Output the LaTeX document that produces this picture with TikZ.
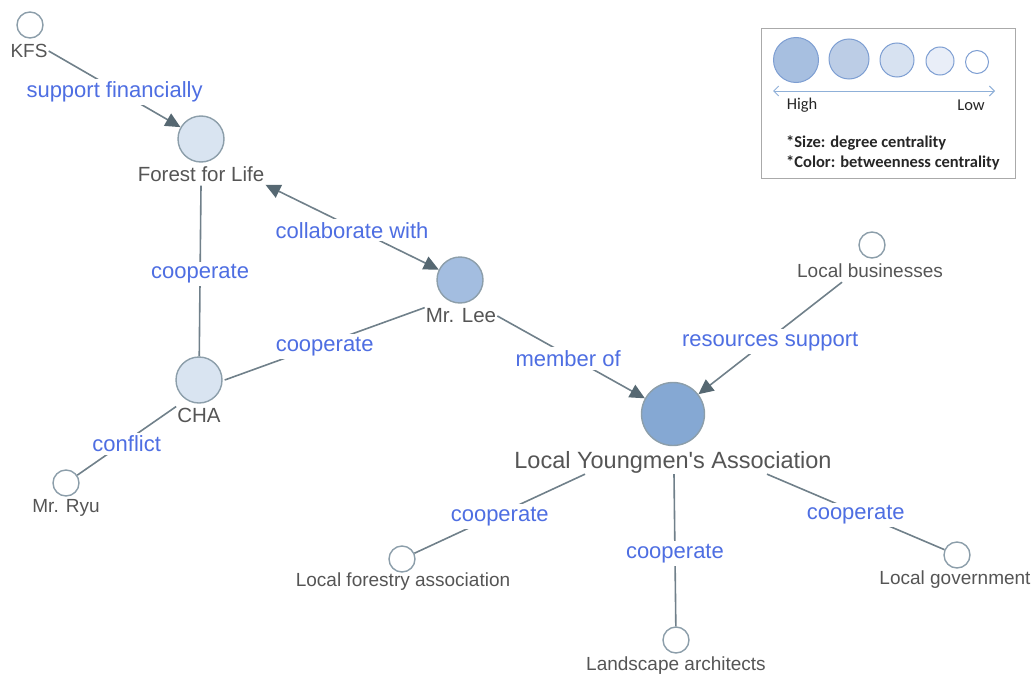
\documentclass[tikz,border=0pt]{standalone}
\usepackage{fontspec}
\setmainfont{Liberation Sans}
\newfontfamily\keyfont{Carlito}
\usetikzlibrary{arrows.meta}

\definecolor{edgegray}{RGB}{112,128,138}
\definecolor{tipgray}{RGB}{86,104,114}
\definecolor{ringgray}{RGB}{140,158,170}
\definecolor{relblue}{RGB}{78,110,226}
\definecolor{namegray}{RGB}{85,85,85}
\definecolor{hubfill}{RGB}{133,168,211}
\definecolor{leefill}{RGB}{163,189,224}
\definecolor{midfill}{RGB}{217,228,241}
\definecolor{keyring}{RGB}{125,158,210}
\definecolor{keyA}{RGB}{167,191,224}
\definecolor{keyB}{RGB}{188,205,230}
\definecolor{keyC}{RGB}{215,226,241}
\definecolor{keyD}{RGB}{233,238,248}
\definecolor{keyline}{RGB}{143,176,216}
\definecolor{boxgray}{RGB}{170,170,170}

\tikzset{
  actor/.style={circle, draw=ringgray, line width=1.4pt, inner sep=0pt, minimum size=#1},
  smallname/.style={font=\fontsize{19}{21}\selectfont, text=namegray, inner sep=1pt},
  midname/.style={font=\fontsize{20.5}{22}\selectfont, text=namegray, inner sep=1pt},
  bigname/.style={font=\fontsize{23.5}{25}\selectfont, text=namegray, inner sep=1pt},
  link/.style={draw=edgegray, line width=1.6pt},
  fwd/.style={-{Triangle[length=15pt,width=14pt,color=tipgray]}},
  both/.style={{Triangle[length=15pt,width=14pt,color=tipgray]}-{Triangle[length=15pt,width=14pt,color=tipgray]}},
  rel/.style={font=\fontsize{22}{24}\selectfont, text=relblue, fill=white, inner sep=3pt, yshift=-3pt},
  keydot/.style={circle, draw=keyring, line width=1pt, inner sep=0pt, minimum size=#1},
  keytext/.style={font=\keyfont\fontsize{16.5}{18}\selectfont, text=black!85, inner sep=0pt}
}

\begin{document}
\begin{tikzpicture}[x=1pt,y=-1pt]
\useasboundingbox (0,0) rectangle (1033,677);

% actors
\node[actor=26pt, fill=white]   (kfs)    at (30,25)   {};
\node[smallname]                (kfsL)   at (29,51)   {KFS};
\node[actor=46pt, fill=midfill] (forest) at (201,139) {};
\node[midname]                  (forestL) at (201,174) {Forest for Life};
\node[actor=46pt, fill=leefill] (lee)    at (460,280) {};
\node[midname]                  (leeL)   at (461,316) {Mr. Lee};
\node[actor=46pt, fill=midfill] (cha)    at (199,380) {};
\node[midname]                  (chaL)   at (199,415) {CHA};
\node[actor=26pt, fill=white]   (ryu)    at (66,483)  {};
\node[smallname]                (ryuL)   at (66,508)  {Mr. Ryu};
\node[actor=63pt, fill=hubfill] (lya)    at (673,414) {};
\node[bigname]                  (lyaL)   at (673,462) {Local Youngmen\textquotesingle s Association};
\node[actor=26pt, fill=white]   (bus)    at (872,245) {};
\node[smallname]                (busL)   at (870,271) {Local businesses};
\node[actor=26pt, fill=white]   (lfa)    at (402,559) {};
\node[smallname]                (lfaL)   at (403,582) {Local forestry association};
\node[actor=26pt, fill=white]   (land)   at (676,640) {};
\node[smallname]                (landL)  at (676,666) {Landscape architects};
\node[actor=26pt, fill=white]   (gov)    at (957,555) {};
\node[smallname]                (govL)   at (955,580) {Local government};

% relations
\draw[link,fwd]  (kfsL.east) -- node[rel] (r1) {support financially} (forest);
\draw[link,both] ([yshift=-2pt]forestL.south east) -- node[rel,pos=0.5] (r2) {collaborate with} (lee);
\draw[link]      ([yshift=-3pt]forestL.south) -- node[rel] (r3) {cooperate} (cha);
\draw[link]      ([xshift=2pt]cha.east) -- node[rel] (r4) {cooperate} (leeL.north west);
\draw[link]      (chaL.north west) -- node[rel] (r5) {conflict} (ryu);
\draw[link,fwd]  (leeL.east) -- node[rel,pos=0.48] (r6) {member of} (lya);
\draw[link,fwd]  ([xshift=-28pt,yshift=-3pt]busL.south) -- node[rel] (r7) {resources support} (lya);
\draw[link]      ([xshift=-88pt]lyaL.south) -- node[rel] (r8) {cooperate} (lfa);
\draw[link]      ([xshift=1pt]lyaL.south) -- node[rel] (r9) {cooperate} (land);
\draw[link]      ([xshift=94pt]lyaL.south) -- node[rel] (r10) {cooperate} (gov);

% key
\node[draw=boxgray, line width=0.8pt, minimum width=254pt, minimum height=150pt, inner sep=0pt] (key) at (888,103) {};
\node[keydot=45pt, fill=keyA] (k1) at (796,60) {};
\node[keydot=40pt, fill=keyB] (k2) at (849,59) {};
\node[keydot=34pt, fill=keyC] (k3) at (897,60) {};
\node[keydot=28pt, fill=keyD] (k4) at (940,61) {};
\node[keydot=23pt, fill=white] (k5) at (977,62) {};
\coordinate (kl) at (773,91);
\coordinate (kr) at (995,91);
\draw[keyline, line width=1pt, {Straight Barb[length=5pt,width=10pt]}-{Straight Barb[length=5pt,width=10pt]}] (kl) -- (kr);
\node[keytext] (khigh) at (802,105) {High};
\node[keytext] (klow)  at (971,105) {Low};
\node[keytext, font=\keyfont\bfseries\fontsize{16.5}{18}\selectfont, anchor=west] (ksize)  at (786,143) {*Size: degree centrality};
\node[keytext, font=\keyfont\bfseries\fontsize{16.5}{18}\selectfont, anchor=west] (kcolor) at (786,163) {*Color: betweenness centrality};
\end{tikzpicture}
\end{document}
